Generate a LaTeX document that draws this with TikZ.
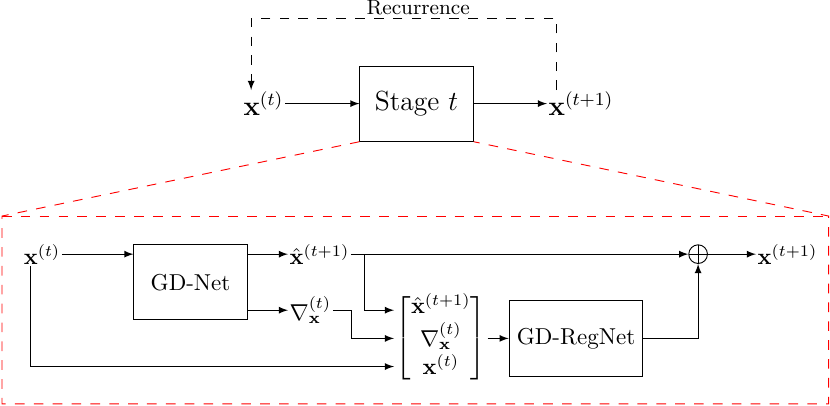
\documentclass[tikz,border=0pt]{standalone}
\usepackage{amsmath}
\usetikzlibrary{arrows}
\tikzset{
    block/.style={draw, minimum width=1.73cm, minimum height=1.15cm},
    sym/.style={inner sep=0.5pt},
    recur/.style={->, dash pattern=on 4.2pt off 4pt},
    zoombox/.style={draw=red, dash pattern=on 4.2pt off 4pt},
    adder/.style={draw, circle, inner sep=0pt, minimum size=0.285cm,
        path picture={\draw (path picture bounding box.north) -- (path picture bounding box.south)
            (path picture bounding box.west) -- (path picture bounding box.east);}},
}
\begin{document}
\begin{tikzpicture}[>=latex]
        %固定画布大小
        \useasboundingbox (0,0) rectangle (12.68,6.19);
        %上方：第t阶段
        \node[block,font=\large] (stage) at (6.364,4.607) {Stage $t$};
        \node[sym,anchor=east,font=\large] (xin) at (4.354,4.607) {$\mathbf{x}^{(t)}$};
        \node[sym,anchor=west,font=\large] (xout) at (8.357,4.607) {$\mathbf{x}^{(t+1)}$};
        \draw[->] (xin) -- (stage);
        \draw[->] (stage) -- (xout);
        %循环虚线
        \draw[recur] ([xshift=0.15cm]xout.north west) |- (6.39,5.913)
            node[above,inner sep=1pt] {\small Recurrence} -| ([xshift=0.14cm]xin.north west);
        %红色虚线放大框
        \path[zoombox] (stage.south west) -- (0.03,2.889) -- (0.03,0.02) -- (12.66,0.02)
            -- (12.66,2.889) -- (stage.south east);
        \path[zoombox] (0.03,2.889) -- (12.66,2.889);
        %下方：展开后的网络
        \node[sym,anchor=west] (xa) at (0.34,2.307) {$\mathbf{x}^{(t)}$};
        \node[block] (gd) at (2.911,1.879) {GD-Net};
        \node[sym,anchor=west] (xhat) at (4.40,2.307) {$\hat{\mathbf{x}}^{(t+1)}$};
        \node[sym,anchor=west] (grad) at (4.40,1.451) {$\nabla_{\mathbf{x}}^{(t)}$};
        \node[sym,anchor=west] (vec) at (6.02,1.02)
            {$\left[\begin{array}{@{}c@{}}\hat{\mathbf{x}}^{(t+1)}\\ \nabla_{\mathbf{x}}^{(t)}\\ \mathbf{x}^{(t)}\end{array}\right]$};
        \node[draw,minimum height=1.15cm] (reg) at (8.80,1.02) {GD-RegNet};
        \node[adder] (sum) at (10.665,2.307) {};
        \node[sym,anchor=west] (xb) at (11.55,2.307) {$\mathbf{x}^{(t+1)}$};
        %连线
        \draw[->] (xa.east) -- (xa -| gd.west);
        \draw[->] (gd.east |- xhat) -- (xhat);
        \draw[->] (gd.east |- grad) -- (grad);
        \draw[->] (xhat) -- (sum);
        \draw[->] ([xshift=0.2cm]xhat.east) |- (vec.west |- grad);
        \draw[->] (grad.east) -- (grad.east -| xhat.east) |- (vec.west);
        \draw[->] ([xshift=0.12cm]xa.south west) |- ([yshift=-0.43cm]vec.west);
        \draw[->] (vec) -- (reg);
        \draw[->] (reg) -| (sum);
        \draw[->] (sum) -- (xb);
\end{tikzpicture}
\end{document}
